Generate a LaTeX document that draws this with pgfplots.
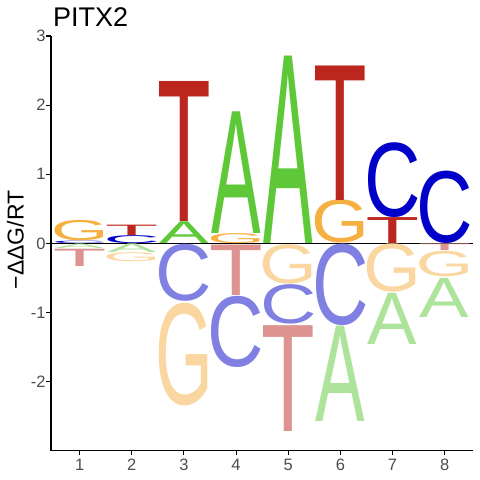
\documentclass[border=0pt]{standalone}
\usepackage{fontspec}
\setmainfont{Liberation Sans}
\newfontfamily\letterfont{Liberation Sans}
\usepackage{graphicx}
\usepackage{pgfplots}
\usepackage{pgfplotstable}
\pgfplotsset{compat=1.18}
\definecolor{Agreen}{RGB}{94,200,56}
\definecolor{Cblue}{RGB}{0,0,200}
\definecolor{Gorange}{RGB}{245,176,65}
\definecolor{Tred}{RGB}{187,39,31}
\definecolor{tickgray}{RGB}{77,77,77}

% letter tables: x, bottom (lo), top (hi) in -DDG/RT units
\pgfplotstableread{
x lo hi
3 0 0.315
4 0.145 1.905
5 0 2.71
}\Apos
\pgfplotstableread{
x lo hi
1 0 0.035
2 0 0.115
7 0.375 1.457
8 0 1.047
}\Cpos
\pgfplotstableread{
x lo hi
1 0.035 0.33
4 0 0.145
6 0 0.625
}\Gpos
\pgfplotstableread{
x lo hi
2 0.12 0.27
3 0.315 2.34
6 0.625 2.57
7 0 0.375
}\Tpos
\pgfplotstableread{
x lo hi
1 -0.075 -0.01
2 -0.135 -0.01
6 -2.58 -1.20
7 -1.47 -0.73
8 -1.07 -0.505
}\Aneg
\pgfplotstableread{
x lo hi
3 -0.845 -0.02
4 -1.79 -0.76
5 -1.17 -0.60
6 -1.19 -0.01
}\Cneg
\pgfplotstableread{
x lo hi
2 -0.27 -0.14
3 -2.35 -0.865
5 -0.59 -0.02
7 -0.71 -0.01
8 -0.49 -0.12
}\Gneg
\pgfplotstableread{
x lo hi
1 -0.34 -0.09
4 -0.75 -0.02
5 -2.72 -1.19
8 -0.105 -0.01
}\Tneg

\newcommand\logoletter[2]{%
  \pgfmathsetlengthmacro\LH{max(\hh,0.002)*69.117pt}%
  \resizebox*{#2}{\LH}{\letterfont #1}}

\pgfplotsset{
  logo/.style n args={3}{
    draw=none, mark=none,
    visualization depends on={\thisrow{hi}-\thisrow{lo} \as \hh},
    nodes near coords={\color{#3}\logoletter{#1}{#2}},
    nodes near coords align={center},
    every node near coord/.append style={anchor=center, inner sep=0pt, outer sep=0pt},
  },
}

\begin{document}
\begin{tikzpicture}
\useasboundingbox (-51pt,-29.3pt) rectangle (429pt,450.7pt);
\begin{axis}[
  at={(0,0)}, anchor=south west,
  scale only axis, width=422.3pt, height=414.7pt,
  xmin=0.45, xmax=8.55, ymin=-3, ymax=3,
  axis x line*=bottom, axis y line*=left,
  axis line style={line width=1.1pt, -},
  xtick={1,2,3,4,5,6,7,8}, ytick={-2,-1,0,1,2,3},
  tick align=outside, major tick length=4.5pt,
  tick style={black, line width=1.1pt},
  ticklabel style={font=\fontsize{16.5}{16.5}\selectfont, text=tickgray},
  yticklabel style={xshift=2.5pt},
  /pgf/number format/assume math mode=true,
  clip=false,
]
\addplot[logo={A}{49.5pt}{Agreen}] table[x=x, y expr={(\thisrow{lo}+\thisrow{hi})/2}] {\Apos};
\addplot[logo={C}{56.4pt}{Cblue}] table[x=x, y expr={(\thisrow{lo}+\thisrow{hi})/2}] {\Cpos};
\addplot[logo={G}{57.8pt}{Gorange}] table[x=x, y expr={(\thisrow{lo}+\thisrow{hi})/2}] {\Gpos};
\addplot[logo={T}{53.6pt}{Tred}] table[x=x, y expr={(\thisrow{lo}+\thisrow{hi})/2}] {\Tpos};
\addplot[logo={A}{49.5pt}{Agreen!50!white}] table[x=x, y expr={(\thisrow{lo}+\thisrow{hi})/2}] {\Aneg};
\addplot[logo={C}{56.4pt}{Cblue!50!white}] table[x=x, y expr={(\thisrow{lo}+\thisrow{hi})/2}] {\Cneg};
\addplot[logo={G}{57.8pt}{Gorange!50!white}] table[x=x, y expr={(\thisrow{lo}+\thisrow{hi})/2}] {\Gneg};
\addplot[logo={T}{53.6pt}{Tred!50!white}] table[x=x, y expr={(\thisrow{lo}+\thisrow{hi})/2}] {\Tneg};
\addplot[black, line width=0.8pt, mark=none] coordinates {(0.45,0) (8.55,0)};
\node[anchor=base west, font=\fontsize{27}{27}\selectfont, inner sep=0pt] at (rel axis cs:0,1) [xshift=2pt, yshift=9.3pt] {PITX2};
\node[xshift=-35.7pt, yshift=3.3pt, rotate=90, anchor=center, font=\fontsize{23}{23}\selectfont, inner sep=0pt] at (rel axis cs:0,0.5) {−ΔΔG/RT};
\end{axis}
\end{tikzpicture}
\end{document}
